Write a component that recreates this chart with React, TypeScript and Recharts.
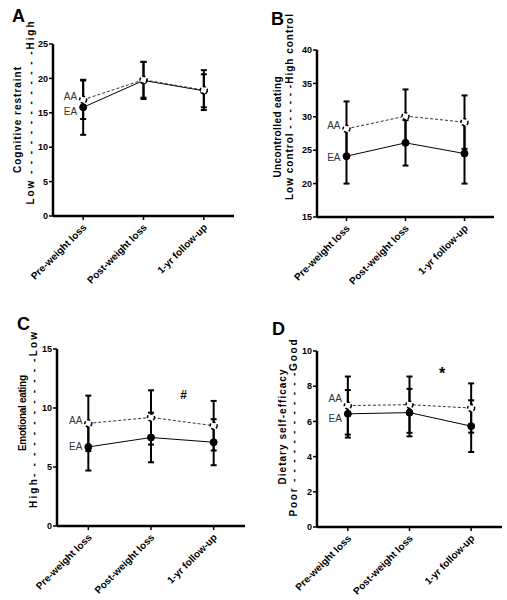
import React from "react";
import { LineChart, Line, XAxis, YAxis, ErrorBar, ReferenceDot, LabelList } from "recharts";

const phases = ["Pre-weight loss", "Post-weight loss", "1-yr follow-up"];

// A: cognitive restraint
const restraintAA = [16.9, 19.8, 18.3];
const restraintAAErr = [2.8, 2.6, 2.9];
const restraintEA = [15.8, 19.7, 18.2];
const restraintEAErr = [4.0, 2.7, 2.4];
const restraintTicks = [0, 5, 10, 15, 20, 25];

// B: uncontrolled eating
const uncontrolledAA = [28.2, 30.1, 29.2];
const uncontrolledAAErr = [4.1, 4.0, 4.0];
const uncontrolledEA = [24.1, 26.1, 24.5];
const uncontrolledEAErr = [4.1, 3.4, 4.5];
const uncontrolledTicks = [15, 20, 25, 30, 35, 40];

// C: emotional eating
const emotionalAA = [8.7, 9.2, 8.5];
const emotionalAAErr = [2.35, 2.3, 2.1];
const emotionalEA = [6.7, 7.5, 7.1];
const emotionalEAErr = [2.0, 2.1, 1.95];
const emotionalTicks = [0, 5, 10, 15];

// D: dietary self-efficacy
const efficacyAA = [6.9, 6.95, 6.76];
const efficacyAAErr = [1.65, 1.6, 1.4];
const efficacyEA = [6.43, 6.5, 5.73];
const efficacyEAErr = [1.35, 1.35, 1.47];
const efficacyTicks = [0, 2, 4, 6, 8, 10];

const FONT = "'Liberation Sans', Arial, sans-serif";

type Row = { phase: string; aa: number; aaErr: number; ea: number; eaErr: number };

function rows(aa: number[], aaErr: number[], ea: number[], eaErr: number[]): Row[] {
  return phases.map((phase, i) => ({ phase, aa: aa[i], aaErr: aaErr[i], ea: ea[i], eaErr: eaErr[i] }));
}

function PhaseTick(props: any) {
  const { x, y, payload } = props;
  const ax = x + 4;
  const ay = y + 6;
  return (
    <text
      x={ax}
      y={ay}
      transform={`rotate(-45, ${ax}, ${ay})`}
      textAnchor="end"
      fontFamily={FONT}
      fontSize={10}
      fontWeight="bold"
      fill="#000"
    >
      {payload.value}
    </text>
  );
}

function groupLabel(text: string, dy: number) {
  return (props: any) => {
    if (props.index !== 0) return null;
    return (
      <text
        x={props.x - 6}
        y={props.y + dy}
        textAnchor="end"
        dominantBaseline="central"
        fontFamily={FONT}
        fontSize={10}
        fill="#333"
      >
        {text}
      </text>
    );
  };
}

type PanelProps = {
  left: number;
  top: number;
  width: number;
  height: number;
  margin: { top: number; right: number; bottom: number; left: number };
  data: Row[];
  domain: [number, number];
  ticks: number[];
  labelDy: [number, number];
  note?: { text: string; y: number; dx: number; size: number };
};

function Panel({ left, top, width, height, margin, data, domain, ticks, labelDy, note }: PanelProps) {
  const band = (width - margin.left - margin.right) / phases.length;
  // axes get a 1px slot; the rest of the gap is margin
  const m = { top: margin.top, right: margin.right, bottom: margin.bottom - 1, left: margin.left - 1 };
  return (
    <div style={{ position: "absolute", left, top }}>
      <LineChart width={width} height={height} data={data} margin={m}>
        <XAxis
          dataKey="phase"
          type="category"
          interval={0}
          height={1}
          padding={{ left: band / 2, right: band / 2 }}
          axisLine={{ stroke: "#000", strokeWidth: 2.5 }}
          tickLine={{ stroke: "#000", strokeWidth: 1.5 }}
          tickSize={4}
          tickMargin={2}
          tick={<PhaseTick />}
        />
        <YAxis
          type="number"
          width={1}
          domain={domain}
          ticks={ticks}
          allowDataOverflow
          axisLine={{ stroke: "#000", strokeWidth: 2.5 }}
          tickLine={{ stroke: "#000", strokeWidth: 1.5 }}
          tickSize={4}
          tickMargin={1}
          tick={{ fontSize: 9, fontWeight: "bold", fill: "#000", fontFamily: FONT }}
        />
        <Line
          dataKey="ea"
          stroke="#000"
          strokeWidth={1}
          dot={{ r: 3.5, fill: "#000", stroke: "#000", strokeWidth: 1 }}
          isAnimationActive={false}
        >
          <ErrorBar dataKey="eaErr" direction="y" width={3} stroke="#000" strokeWidth={2} />
          <LabelList dataKey="ea" content={groupLabel("EA", labelDy[1])} />
        </Line>
        <Line
          dataKey="aa"
          stroke="#333"
          strokeWidth={1}
          strokeDasharray="3 2"
          dot={{ r: 3.5, fill: "#fff", stroke: "#000", strokeWidth: 1.5 }}
          isAnimationActive={false}
        >
          <ErrorBar dataKey="aaErr" direction="y" width={3} stroke="#000" strokeWidth={2} />
          <LabelList dataKey="aa" content={groupLabel("AA", labelDy[0])} />
        </Line>
        {note && (
          <ReferenceDot
            x={phases[2]}
            y={note.y}
            r={0}
            fill="none"
            stroke="none"
            label={(p: any) => (
              <text
                x={p.viewBox.x + note.dx}
                y={p.viewBox.y}
                textAnchor="middle"
                dominantBaseline="central"
                fontFamily={FONT}
                fontSize={note.size}
                fontWeight="bold"
                fill="#000"
              >
                {note.text}
              </text>
            )}
          />
        )}
      </LineChart>
    </div>
  );
}

function VTitle({ x, y, len, text, size = 10 }: { x: number; y: number; len: number; text: string; size?: number }) {
  return (
    <text
      transform={`translate(${x}, ${y}) rotate(-90)`}
      textAnchor="middle"
      dominantBaseline="central"
      textLength={len}
      lengthAdjust="spacing"
      fontFamily={FONT}
      fontSize={size}
      fontWeight="bold"
      fill="#000"
    >
      {text}
    </text>
  );
}

function Letter({ x, y, text }: { x: number; y: number; text: string }) {
  return (
    <text x={x} y={y} fontFamily={FONT} fontSize={18} fontWeight="bold" fill="#000">
      {text}
    </text>
  );
}

export default function App() {
  return (
    <div style={{ position: "absolute", left: 0, top: 0, width: 507, height: 600, background: "#fff" }}>
      <Panel
        left={0}
        top={0}
        width={254}
        height={300}
        margin={{ top: 44, right: 20, bottom: 84, left: 53 }}
        data={rows(restraintAA, restraintAAErr, restraintEA, restraintEAErr)}
        domain={[0, 25]}
        ticks={restraintTicks}
        labelDy={[-3, 4]}
      />
      <Panel
        left={254}
        top={0}
        width={253}
        height={300}
        margin={{ top: 50, right: 13, bottom: 83, left: 63 }}
        data={rows(uncontrolledAA, uncontrolledAAErr, uncontrolledEA, uncontrolledEAErr)}
        domain={[15, 40]}
        ticks={uncontrolledTicks}
        labelDy={[-3, 1]}
      />
      <Panel
        left={0}
        top={300}
        width={254}
        height={300}
        margin={{ top: 49, right: 9, bottom: 74, left: 57 }}
        data={rows(emotionalAA, emotionalAAErr, emotionalEA, emotionalEAErr)}
        domain={[0, 15]}
        ticks={emotionalTicks}
        labelDy={[-3, 0]}
        note={{ text: "#", y: 11.1, dx: -30, size: 12 }}
      />
      <Panel
        left={254}
        top={300}
        width={253}
        height={300}
        margin={{ top: 51, right: 5, bottom: 73, left: 63 }}
        data={rows(efficacyAA, efficacyAAErr, efficacyEA, efficacyEAErr)}
        domain={[0, 10]}
        ticks={efficacyTicks}
        labelDy={[-7, 5]}
        note={{ text: "*", y: 8.75, dx: -29, size: 16 }}
      />
      <svg
        width={507}
        height={600}
        style={{ position: "absolute", left: 0, top: 0, pointerEvents: "none" }}
      >
        <Letter x={12} y={22} text="A" />
        <Letter x={271} y={25} text="B" />
        <Letter x={17} y={330} text="C" />
        <Letter x={272} y={335} text="D" />
        <VTitle x={17} y={120} len={106} text="Cognitive restraint" />
        <VTitle x={30} y={113} len={183} text="Low - - - - - - - - - - - - -High" />
        <VTitle x={277} y={127} len={101} text="Uncontrolled eating" />
        <VTitle x={289} y={107} len={186} text="Low control - - - - - -High control" />
        <VTitle x={22} y={413} len={76} text="Emotional eating" />
        <VTitle x={33} y={420} len={176} text="High- - - - - - - - - - - -Low" />
        <VTitle x={282} y={427} len={115} text="Dietary self-efficacy" />
        <VTitle x={293} y={428} len={177} text="Poor - - - - - - - - - - - -Good" />
      </svg>
    </div>
  );
}
